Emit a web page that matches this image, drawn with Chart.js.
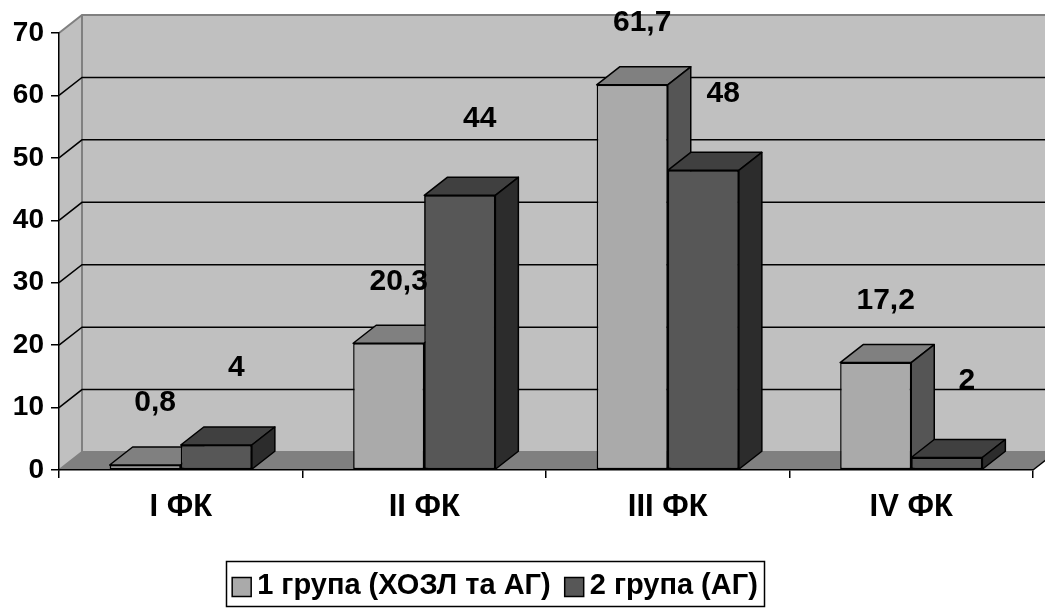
<!DOCTYPE html>
<html><head><meta charset="utf-8">
<script src="https://cdn.jsdelivr.net/npm/chart.js@4"></script>
<style>html,body{margin:0;padding:0;background:#fff;overflow:hidden}</style>
</head><body>
<canvas id="c" width="1045" height="608" style="display:block"></canvas>
<script>
// ---- data ----
const categories = ['I ФК', 'II ФК', 'III ФК', 'IV ФК'];
const group1Label = '1 група (ХОЗЛ та АГ)';
const group2Label = '2 група (АГ)';
const group1Values = [0.8, 20.3, 61.7, 17.2];
const group2Values = [4, 44, 48, 2];
const yMin = 0, yMax = 70, yStep = 10;

// ---- styles ----
const FONT = '"Liberation Sans", Arial, sans-serif';
const DX = 23, DY = 18;
const fmt = v => String(v).replace('.', ',');

const threeD = {
  id: 'threeD',
  beforeDraw(chart) {
    const { ctx, chartArea: a, scales: { y } } = chart;
    const L = a.left, R = a.right, T = a.top, B = a.bottom;
    ctx.save();
    ctx.fillStyle = '#fff';
    ctx.fillRect(0, 0, chart.width, chart.height);
    ctx.fillStyle = '#c0c0c0';
    ctx.fillRect(L + DX, T - DY, R - L + 40, B - T);
    ctx.beginPath();
    ctx.moveTo(L, T); ctx.lineTo(L + DX, T - DY); ctx.lineTo(L + DX, B - DY); ctx.lineTo(L, B);
    ctx.closePath(); ctx.fill();
    ctx.fillStyle = '#808080';
    ctx.beginPath();
    ctx.moveTo(L, B); ctx.lineTo(L + DX, B - DY); ctx.lineTo(R + DX, B - DY); ctx.lineTo(R, B);
    ctx.closePath(); ctx.fill();
    ctx.strokeStyle = '#808080'; ctx.lineWidth = 2;
    ctx.beginPath();
    ctx.moveTo(L, T); ctx.lineTo(L + DX, T - DY); ctx.lineTo(R + DX + 40, T - DY);
    ctx.moveTo(L + DX, T - DY); ctx.lineTo(L + DX, B - DY); ctx.lineTo(R + DX, B - DY);
    ctx.moveTo(L, B); ctx.lineTo(L + DX, B - DY);
    ctx.stroke();
    ctx.strokeStyle = '#000'; ctx.lineWidth = 1.5;
    y.ticks.forEach(t => {
      if (t.value <= y.min || t.value >= y.max) return;
      const py = y.getPixelForValue(t.value);
      ctx.beginPath();
      ctx.moveTo(L, py); ctx.lineTo(L + DX, py - DY); ctx.lineTo(R + DX + 40, py - DY);
      ctx.stroke();
    });
    ctx.beginPath(); ctx.moveTo(R, B); ctx.lineTo(R + DX, B - DY); ctx.stroke();
    ctx.restore();
  },
  afterDatasetsDraw(chart) {
    const ctx = chart.ctx;
    const metas = [chart.getDatasetMeta(0), chart.getDatasetMeta(1)];
    const faces = (el, ds) => {
      const { x, y, base, width } = el.getProps(['x', 'y', 'base', 'width'], true);
      const l = x - width / 2, r = x + width / 2;
      ctx.save();
      ctx.strokeStyle = '#000'; ctx.lineWidth = 1.5; ctx.lineJoin = 'round';
      ctx.fillStyle = ds.topColor;
      ctx.beginPath();
      ctx.moveTo(l, y); ctx.lineTo(r, y); ctx.lineTo(r + DX, y - DY); ctx.lineTo(l + DX, y - DY);
      ctx.closePath(); ctx.fill(); ctx.stroke();
      ctx.fillStyle = ds.sideColor;
      ctx.beginPath();
      ctx.moveTo(r, y); ctx.lineTo(r + DX, y - DY); ctx.lineTo(r + DX, base - DY); ctx.lineTo(r, base);
      ctx.closePath(); ctx.fill(); ctx.stroke();
      ctx.restore();
    };
    categories.forEach((c, j) => {
      faces(metas[0].data[j], chart.data.datasets[0]);
      metas[1].data[j].draw(ctx);
      faces(metas[1].data[j], chart.data.datasets[1]);
    });
  },
  afterDraw(chart) {
    const ctx = chart.ctx;
    ctx.save();
    ctx.font = 'bold 30px ' + FONT;
    ctx.fillStyle = '#000';
    ctx.textAlign = 'center'; ctx.textBaseline = 'middle';
    const offs = [[10, 62], [20, 77]];
    chart.data.datasets.forEach((ds, i) => {
      chart.getDatasetMeta(i).data.forEach((el, j) => {
        ctx.fillText(fmt(ds.data[j]), el.x + offs[i][0], el.y - offs[i][1]);
      });
    });
    // legend
    ctx.font = 'bold 29px ' + FONT;
    const items = chart.data.datasets.map(ds => ({ t: ds.label, c: ds.backgroundColor }));
    const box = 19, gap = 6, sp = 14;
    const widths = items.map(it => ctx.measureText(it.t).width);
    const total = widths.reduce((s, w) => s + box + gap + w, 0) + sp;
    const cx = 495, cy = 584;
    let x = cx - total / 2;
    ctx.strokeStyle = '#000'; ctx.lineWidth = 1.5;
    ctx.strokeRect(Math.round(x - 6) + 0.5, 561.5, Math.round(total + 12), 45);
    ctx.textAlign = 'left';
    items.forEach((it, i) => {
      ctx.fillStyle = it.c;
      ctx.fillRect(x, cy - box / 2 + 3, box, box);
      ctx.strokeRect(x, cy - box / 2 + 3, box, box);
      ctx.fillStyle = '#000';
      ctx.fillText(it.t, x + box + gap, cy + 2);
      x += box + gap + widths[i] + sp;
    });
    ctx.restore();
  }
};

new Chart(document.getElementById('c'), {
  type: 'bar',
  data: {
    labels: categories,
    datasets: [
      { label: group1Label, data: group1Values, backgroundColor: '#aaaaaa', topColor: '#808080', sideColor: '#555555',
        borderColor: '#000', borderWidth: 1.5, borderSkipped: false, categoryPercentage: 0.584, barPercentage: 1 },
      { label: group2Label, data: group2Values, backgroundColor: '#575757', topColor: '#404040', sideColor: '#2c2c2c',
        borderColor: '#000', borderWidth: 1.5, borderSkipped: false, categoryPercentage: 0.584, barPercentage: 1 }
    ]
  },
  options: {
    responsive: false, animation: false, devicePixelRatio: 1,
    layout: { padding: { left: 0, top: 33, right: 12, bottom: 88 } },
    plugins: { legend: { display: false }, tooltip: { enabled: false } },
    scales: {
      x: {
        grid: { display: true, drawOnChartArea: false, drawTicks: true, tickLength: 8, color: '#000', lineWidth: 1.5, offset: true },
        border: { display: true, color: '#000', width: 1.5 },
        ticks: { font: { family: FONT, size: 31, weight: 'bold' }, color: '#000', padding: 11, maxRotation: 0 },
        afterFit(s) { s.height = 50; }
      },
      y: {
        min: yMin, max: yMax,
        grid: { display: true, drawOnChartArea: false, drawTicks: true, tickLength: 8, color: '#000', lineWidth: 1.5 },
        border: { display: true, color: '#000', width: 1.5 },
        ticks: { stepSize: yStep, font: { family: FONT, size: 28, weight: 'bold' }, color: '#000', padding: 7 },
        afterFit(s) { s.width = 59; }
      }
    }
  },
  plugins: [threeD]
});
</script>
</body></html>
